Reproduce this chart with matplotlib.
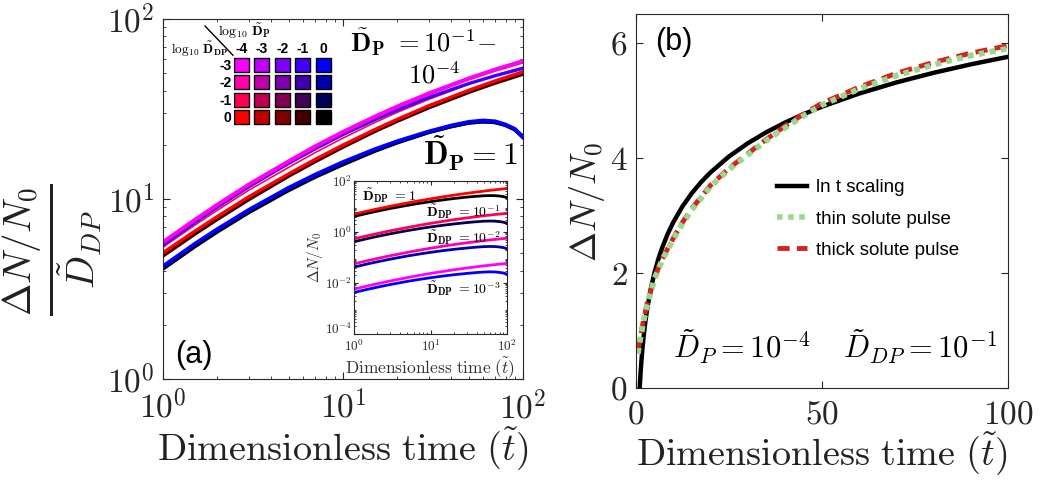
import matplotlib
matplotlib.use("Agg")
import matplotlib.pyplot as plt
from matplotlib.patches import Rectangle
from matplotlib.lines import Line2D
import numpy as np

plt.rcParams['mathtext.fontset'] = 'cm'
plt.rcParams['font.family'] = ['Liberation Sans', 'DejaVu Sans']

# ---- panel (a): normalised gain ----
t_up = [1, 1.5, 2, 3, 5, 7, 10, 15, 20, 30, 50, 70, 100]
magenta_dp4_ddp3 = [5.79, 7.69, 9.33, 12.1, 16.3, 19.7, 23.7, 28.8, 32.8, 38.8, 47.0, 52.6, 58.6]
violet_dp1_ddp3 = [5.55, 7.41, 9.01, 11.7, 15.8, 19.0, 22.8, 27.6, 31.2, 36.7, 43.8, 48.4, 53.2]
pink_dp4_ddp2 = [5.65, 7.5, 9.1, 11.8, 15.9, 19.2, 23.1, 28.1, 32.0, 37.9, 45.9, 51.3, 57.0]
rose_dp4_ddp1 = [5.4, 7.15, 8.65, 11.2, 15.0, 18.1, 21.8, 26.6, 30.3, 35.8, 43.4, 48.6, 54.0]
red_dp4_ddp0 = [5.03, 6.62, 7.98, 10.3, 13.8, 16.6, 19.95, 24.3, 27.7, 33.0, 40.2, 45.3, 50.9]
darkred_dp1_ddp0 = [4.82, 6.37, 7.69, 9.92, 13.4, 16.1, 19.4, 23.7, 27.0, 32.1, 39.1, 44.0, 49.3]

t_low = [1, 1.5, 2, 3, 5, 7, 10, 15, 20, 30, 40, 50, 60, 70, 80, 90, 100]
blue_dp0_ddp3 = [4.25, 5.65, 6.82, 8.74, 11.6, 13.7, 16.1, 18.96, 21.0, 23.8, 25.7, 26.9, 27.4, 27.1, 26.0, 24.6, 22.2]
dblue_dp0_ddp2 = [4.2, 5.6, 6.75, 8.65, 11.5, 13.55, 15.95, 18.8, 20.8, 23.65, 25.5, 26.7, 27.1, 26.8, 25.8, 24.4, 22.0]
navy_dp0_ddp1 = [4.15, 5.53, 6.68, 8.56, 11.35, 13.4, 15.8, 18.6, 20.6, 23.5, 25.3, 26.5, 26.9, 26.6, 25.6, 24.2, 21.9]
black_dp0_ddp0 = [4.08, 5.42, 6.55, 8.4, 11.15, 13.2, 15.5, 18.4, 20.5, 23.4, 25.2, 26.4, 26.8, 26.6, 25.7, 24.4, 22.3]

# colour key
dp_labels = ['-4', '-3', '-2', '-1', '0']
ddp_labels = ['-3', '-2', '-1', '0']
red_levels = [1.0, 0.75, 0.5, 0.25, 0.0]
blue_levels = [1.0, 0.67, 0.33, 0.0]

# ---- panel (b) ----
t_ln = [1, 1.1, 1.2, 1.35, 1.5, 1.75, 2, 2.5, 3, 4, 5, 6, 7, 8.5, 10, 12.5, 15, 17.5, 20, 25, 30, 35, 40, 45,
        50, 60, 70, 80, 90, 100]
ln_scaling = [0, 0.119, 0.228, 0.375, 0.507, 0.70, 0.866, 1.145, 1.373, 1.733, 2.012, 2.24, 2.432, 2.675, 2.878,
              3.157, 3.385, 3.578, 3.745, 4.024, 4.251, 4.444, 4.611, 4.758, 4.89, 5.118, 5.311, 5.478, 5.625, 5.756]
t_pulse = [0.5, 1, 2, 3, 5, 7, 10, 12.5, 15, 20, 25, 30, 35, 40, 45, 50, 60, 70, 80, 90, 100]
thin_pulse = [0.6, 0.8, 1.15, 1.45, 1.9, 2.22, 2.58, 2.86, 3.1, 3.5, 3.8, 4.05, 4.3, 4.52, 4.73, 4.92, 5.2, 5.43, 5.62,
              5.78, 5.9]
thick_pulse = [0.62, 0.82, 1.17, 1.47, 1.92, 2.24, 2.6, 2.88, 3.12, 3.52, 3.82, 4.07, 4.32, 4.55, 4.76, 4.95, 5.23,
               5.47, 5.66, 5.82, 5.95]

W, H = 1045, 484
fig = plt.figure(figsize=(W / 100, H / 100), dpi=100)


def px_axes(x0, y0, x1, y1):
    # pixel box (top-left origin) -> figure axes
    return fig.add_axes([x0 / W, 1 - y1 / H, (x1 - x0) / W, (y1 - y0) / H])


def col(r, b):
    return (r, 0.0, b)


edge = (0.15, 0.15, 0.15)


def style(ax, size):
    for s in ax.spines.values():
        s.set_color(edge)
        s.set_linewidth(0.8)
    ax.tick_params(which='both', direction='in', top=True, right=True, colors=edge, labelcolor=(0.15, 0.15, 0.15), labelsize=size)
    ax.tick_params(which='major', length=5)
    ax.tick_params(which='minor', length=2.5)


# ---------------- main axes (a) ----------------
ax = px_axes(163, 19, 523, 379)
lw = 2.4
ax.plot(t_low, black_dp0_ddp0, color='k', lw=lw)
ax.plot(t_low, navy_dp0_ddp1, color=col(0, 0.33), lw=lw)
ax.plot(t_low, dblue_dp0_ddp2, color=col(0, 0.67), lw=lw)
ax.plot(t_low, blue_dp0_ddp3, color=col(0, 1), lw=lw)
ax.plot(t_up, darkred_dp1_ddp0, color=col(0.25, 0), lw=lw)
ax.plot(t_up, red_dp4_ddp0, color=col(1, 0), lw=lw)
ax.plot(t_up, rose_dp4_ddp1, color=col(1, 0.33), lw=1.2)
ax.plot(t_up, violet_dp1_ddp3, color=col(0.25, 1), lw=lw)
ax.plot(t_up, pink_dp4_ddp2, color=col(1, 0.67), lw=1.2)
ax.plot(t_up, magenta_dp4_ddp3, color=col(1, 1), lw=lw)
ax.set_xscale('log')
ax.set_yscale('log')
ax.set_xlim(1, 100)
ax.set_ylim(1, 100)
style(ax, 24)
ax.set_xticks([1, 10, 100])
ax.set_xticklabels([r'$10^{0}$', r'$10^{1}$', r'$10^{2}$'])
ax.set_yticks([1, 10, 100])
ax.set_yticklabels([r'$10^{0}$', r'$10^{1}$', r'$10^{2}$'])
ax.tick_params(axis='x', pad=8)
ax.tick_params(axis='y', pad=6)
ax.set_xlabel(r'$\mathrm{Dimensionless\ time\ }(\tilde{t})$', fontsize=27.5, color='#222222', labelpad=0)
fig.text(52 / W, 1 - 250 / H, r'$\frac{\Delta N/N_0}{\tilde{D}_{DP}}$', fontsize=40, rotation=90,
         ha='center', va='center', color='#222222')
ax.text(0.033, 0.067, '(a)', transform=ax.transAxes, fontsize=22, ha='left', va='center')
ax.text(0.52, 0.936, r'$\mathbf{\tilde{D}_{P}}\ {=}10^{-1}{-}$', transform=ax.transAxes, fontsize=19, ha='left', va='center')
ax.text(0.68, 0.844, r'$10^{-4}$', transform=ax.transAxes, fontsize=19, ha='left', va='center')
ax.text(0.722, 0.628, r'$\mathbf{\tilde{D}_{P}}=1$', transform=ax.transAxes, fontsize=23, ha='left', va='center')

# ---------------- colour key ----------------
kx = px_axes(234, 57, 336, 127)
kx.set_xlim(0, 5)
kx.set_ylim(4, 0)
kx.axis('off')
for i, r in enumerate(red_levels):
    for j, b in enumerate(blue_levels):
        kx.add_patch(Rectangle((i, j + 0.05), 0.74, 0.8, facecolor=col(r, b), edgecolor='k', lw=1.0))
for i, lab in enumerate(dp_labels):
    kx.text(i + 0.37, -0.45, lab, fontsize=10, fontweight='bold', ha='center', va='center')
for j, lab in enumerate(ddp_labels):
    kx.text(-0.12, j + 0.5, lab, fontsize=10, fontweight='bold', ha='right', va='center')
kx.text(-0.8, -1.45, r'$\log_{10}\,\mathbf{\tilde{D}_P}$', fontsize=10, ha='left', va='center')
kx.text(-0.3, -0.42, r'$\log_{10}\,\mathbf{\tilde{D}_{DP}}$', fontsize=9.5, ha='right', va='center')
kx.add_line(Line2D([-1.42, -0.05], [-1.77, -0.1], color='k', lw=1.0, clip_on=False))

# ---------------- inset ----------------
ins = px_axes(354, 181, 507, 334)
ilw = 2.0
groups = [
    (1e-3, magenta_dp4_ddp3, col(1, 1), blue_dp0_ddp3, col(0, 1)),
    (1e-2, pink_dp4_ddp2, col(1, 0.67), dblue_dp0_ddp2, col(0, 0.67)),
    (1e-1, rose_dp4_ddp1, col(1, 0.33), navy_dp0_ddp1, col(0, 0.33)),
    (1.0, red_dp4_ddp0, col(1, 0), black_dp0_ddp0, 'k'),
]
for ddp, up, cu, low, cl in groups:
    ins.plot(t_low, np.array(low) * ddp, color=cl, lw=ilw)
    ins.plot(t_up, np.array(up) * ddp, color=cu, lw=ilw)
ins.set_xscale('log')
ins.set_yscale('log')
ins.set_xlim(1, 100)
ins.set_ylim(1e-4, 1e2)
style(ins, 9.5)
ins.tick_params(which='major', length=3)
ins.tick_params(which='minor', length=1.5)
ins.set_xticks([1, 10, 100])
ins.set_xticklabels([r'$10^{0}$', r'$10^{1}$', r'$10^{2}$'])
ins.set_yticks([1e-4, 1e-2, 1, 1e2])
ins.set_yticklabels([r'$10^{-4}$', r'$10^{-2}$', r'$10^{0}$', r'$10^{2}$'])
ins.yaxis.set_minor_locator(matplotlib.ticker.LogLocator(base=10, subs=np.arange(2, 10), numticks=20))
ins.yaxis.set_minor_formatter(matplotlib.ticker.NullFormatter())
ins.tick_params(axis='x', pad=3.5)
ins.tick_params(axis='y', pad=1.5)
# lift the bottom y label a little so it clears the first x label
ins.get_yticklabels()[0].set_verticalalignment('baseline')
ins.set_xlabel(r'$\mathrm{Dimensionless\ time\ }(\tilde{t})$', fontsize=12.5, color='#333333', labelpad=0.5)
ins.set_ylabel(r'$\Delta N/N_0$', fontsize=11, color='#333333', labelpad=0)
ins.text(0.05, 0.908, r'$\mathbf{\tilde{D}_{DP}}\ {=}1$', transform=ins.transAxes, fontsize=10, ha='left', va='center')
ins.text(0.47, 0.797, r'$\mathbf{\tilde{D}_{DP}}\ {=}10^{-1}$', transform=ins.transAxes, fontsize=10, ha='left', va='center')
ins.text(0.47, 0.627, r'$\mathbf{\tilde{D}_{DP}}\ {=}10^{-2}$', transform=ins.transAxes, fontsize=10, ha='left', va='center')
ins.text(0.47, 0.294, r'$\mathbf{\tilde{D}_{DP}}\ {=}10^{-3}$', transform=ins.transAxes, fontsize=10, ha='left', va='center')

# ---------------- panel (b) ----------------
bx = px_axes(636, 14, 1008, 388)
bx.plot(t_ln, ln_scaling, color='k', lw=3.2, label='ln t scaling')
bx.plot(t_pulse, thin_pulse, color=(0.6, 0.85, 0.55), lw=4, ls=(0, (1, 1)), label='thin solute pulse')
bx.plot(t_pulse, thick_pulse, color=(0.85, 0.13, 0.13), lw=3.5, ls=(0, (2.5, 1.5)), label='thick solute pulse')
# redraw the green dots on top of the red dashes
bx.plot(t_pulse, thin_pulse, color=(0.6, 0.85, 0.55), lw=4, ls=(0, (1, 1)))
bx.set_xlim(0, 100)
bx.set_ylim(0, 6.5)
style(bx, 24)
bx.set_xticks([0, 50, 100])
bx.set_xticklabels([r'$0$', r'$50$', r'$100$'])
bx.set_yticks([0, 2, 4, 6])
bx.set_yticklabels([r'$0$', r'$2$', r'$4$', r'$6$'])
bx.tick_params(axis='x', pad=8)
bx.tick_params(axis='y', pad=6)
bx.set_xlabel(r'$\mathrm{Dimensionless\ time\ }(\tilde{t})$', fontsize=27.5, color='#222222', labelpad=0)
fig.text(587 / W, 1 - 202 / H, r'$\Delta N/N_0$', fontsize=26, rotation=90, ha='center', va='center', color='#222222')
bx.text(0.051, 0.925, '(b)', transform=bx.transAxes, fontsize=22, ha='left', va='center')
bx.text(0.1, 0.11, r'$\tilde{D}_P = 10^{-4}$', transform=bx.transAxes, fontsize=22, ha='left', va='center')
bx.text(0.556, 0.11, r'$\tilde{D}_{DP} = 10^{-1}$', transform=bx.transAxes, fontsize=22, ha='left', va='center')
leg = bx.legend(loc='upper left', bbox_to_anchor=(0.379, 0.558), frameon=False, fontsize=13.5,
                handlelength=1.6, handletextpad=0.5, labelspacing=0.75, borderpad=0, borderaxespad=0)

fig.savefig('out.png', dpi=100)
